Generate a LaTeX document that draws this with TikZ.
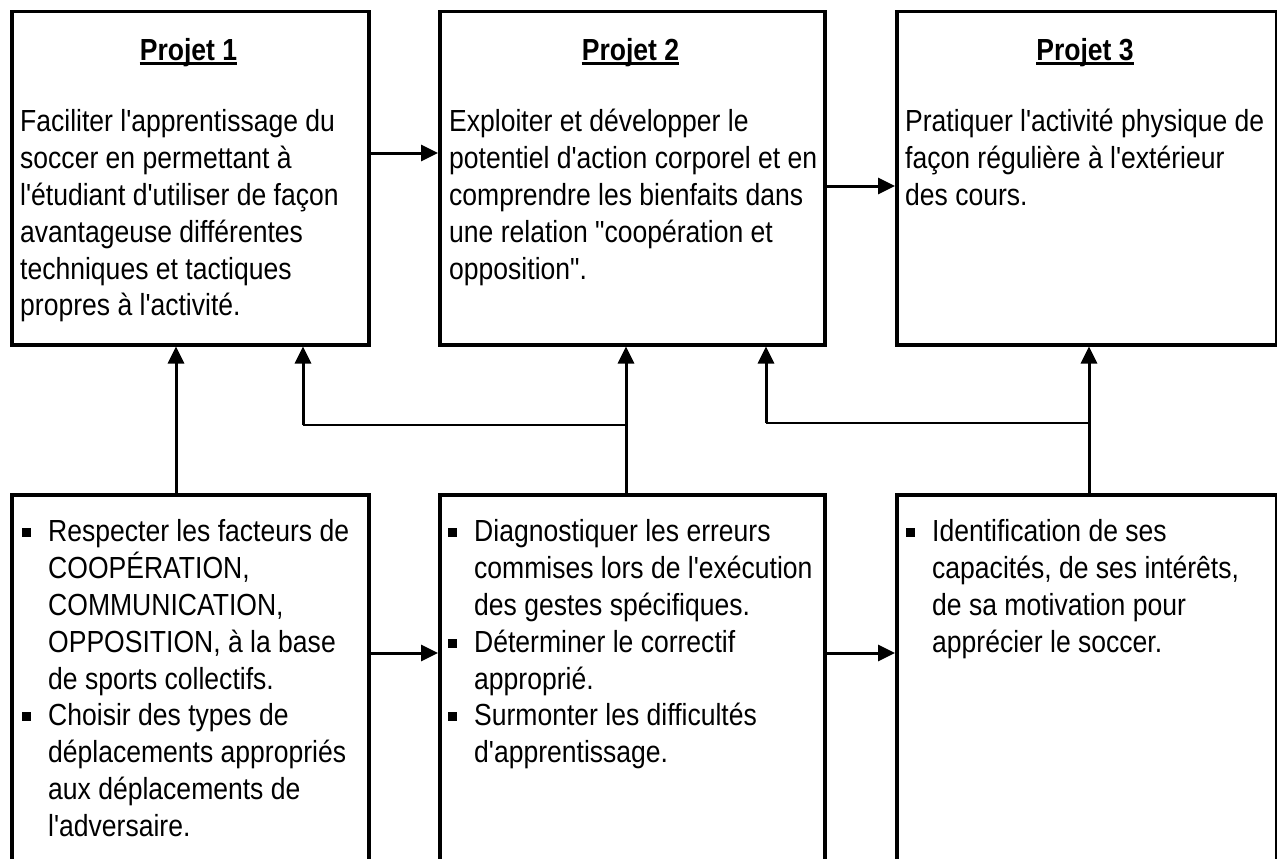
\documentclass[tikz,border=0pt]{standalone}
\usepackage{fontspec}
\newfontfamily\bodyfont{Liberation Sans}[FakeStretch=0.87]
\usetikzlibrary{arrows.meta}
\newcommand{\bul}{\llap{\rule[4.5pt]{9pt}{9pt}\hspace{17pt}}}
\newcommand{\fs}{\rule{0pt}{24pt}}
\tikzset{
  box/.style={draw, line width=3.5pt, anchor=north west, inner sep=0pt},
  head/.style={font=\bodyfont\bfseries\fontsize{30.5}{36.8}\selectfont, inner sep=0pt, anchor=base},
  body/.style={font=\bodyfont\fontsize{30.5}{36.8}\selectfont, align=left, inner sep=0pt, anchor=north west},
  uline/.style={line width=2.2pt},
  arr/.style={line width=3pt, -{Triangle[width=16pt,length=17pt]}},
  link/.style={line width=2.5pt}
}
\begin{document}
\begin{tikzpicture}[x=1pt,y=-1pt]
\useasboundingbox (0,0) rectangle (1277,859);
\clip (0,0) rectangle (1277,859);
% top boxes
\node[box, minimum width=357pt, minimum height=333pt] (p1) at (10,10) {};
\node[box, minimum width=385pt, minimum height=333pt] (p2) at (438,10) {};
\node[box, minimum width=380pt, minimum height=333pt] (p3) at (895,10) {};
% bottom boxes (open at the bottom of the picture)
\node[box, minimum width=357pt, minimum height=420pt] (b1) at (10,493) {};
\node[box, minimum width=385pt, minimum height=420pt] (b2) at (438,493) {};
\node[box, minimum width=380pt, minimum height=420pt] (b3) at (895,493) {};
% headings
\node[head] (h1) at (188.5,60) {Projet 1};
\node[head] (h2) at (630.5,60) {Projet 2};
\node[head] (h3) at (1085,60) {Projet 3};
\foreach \h in {h1,h2,h3}{
  \draw[uline] ([yshift=-3.5pt]\h.base west) -- ([yshift=-3.5pt]\h.base east);
}
% top texts
\node[body] (t1) at (20,107.7) {\fs Faciliter l'apprentissage du\\soccer en permettant à\\l'étudiant d'utiliser de façon\\avantageuse différentes\\techniques et tactiques\\propres à l'activité.};
\node[body] (t2) at (449,107.7) {\fs Exploiter et développer le\\potentiel d'action corporel et en\\comprendre les bienfaits dans\\une relation "coopération et\\opposition".};
\node[body] (t3) at (905,107.7) {\fs Pratiquer l'activité physique de\\façon régulière à l'extérieur\\des cours.};
% bottom texts
\node[body] (u1) at (48,517.7) {\fs\bul Respecter les facteurs de\\COOPÉRATION,\\COMMUNICATION,\\OPPOSITION, à la base\\de sports collectifs.\\\bul Choisir des types de\\déplacements appropriés\\aux déplacements de\\l'adversaire.};
\node[body] (u2) at (474,517.7) {\fs\bul Diagnostiquer les erreurs\\commises lors de l'exécution\\des gestes spécifiques.\\\bul Déterminer le correctif\\approprié.\\\bul Surmonter les difficultés\\d'apprentissage.};
\node[body] (u3) at (932,517.7) {\fs\bul Identification de ses\\capacités, de ses intérêts,\\de sa motivation pour\\apprécier le soccer.};
% helper coordinates
\coordinate (ya) at (0,153);
\coordinate (yb) at (0,186);
\coordinate (yc) at (0,653);
\coordinate (x1) at (176,0);
\coordinate (x2) at (626,0);
\coordinate (x3) at (1089,0);
\coordinate (j2) at (626,425);
\coordinate (j3) at (1089,423);
\coordinate (xa) at (303,0);
\coordinate (xb) at (766,0);
% horizontal arrows
\draw[arr] (p1.east |- ya) -- (p2.west |- ya);
\draw[arr] (p2.east |- yb) -- (p3.west |- yb);
\draw[arr] (b1.east |- yc) -- (b2.west |- yc);
\draw[arr] (b2.east |- yc) -- (b3.west |- yc);
% vertical arrows
\draw[arr] (b1.north -| x1) -- (p1.south -| x1);
\draw[arr] (b2.north -| x2) -- (p2.south -| x2);
\draw[arr] (b3.north -| x3) -- (p3.south -| x3);
% branches
\draw[link] (j2) -- (j2 -| xa);
\draw[arr] (j2 -| xa) -- (p1.south -| xa);
\draw[link] (j3) -- (j3 -| xb);
\draw[arr] (j3 -| xb) -- (p2.south -| xb);
\end{tikzpicture}
\end{document}
